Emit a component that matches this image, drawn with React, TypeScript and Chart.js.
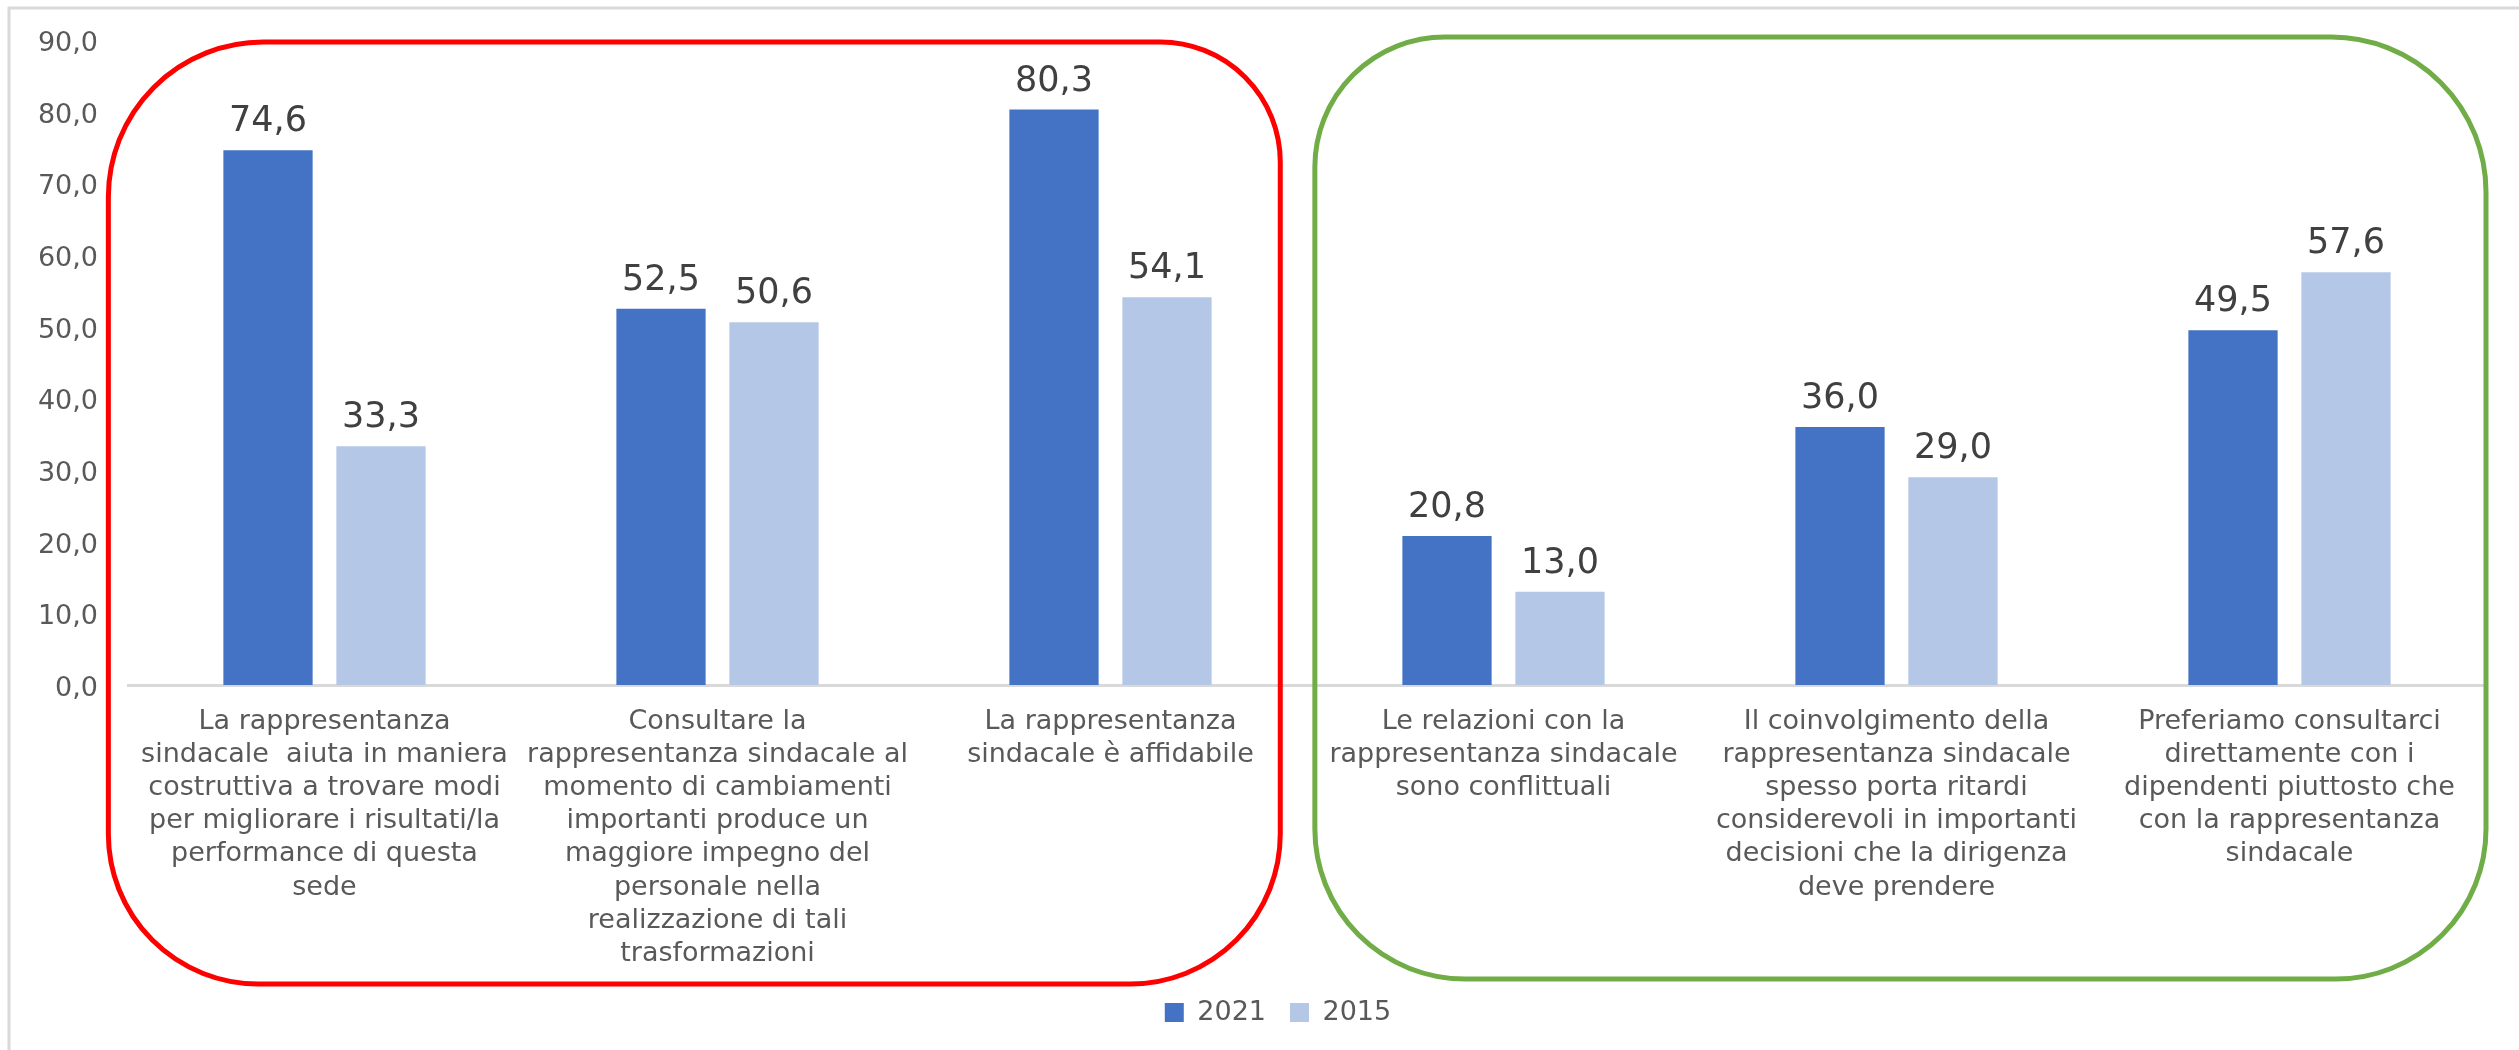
import React, { useEffect, useRef } from "react";
import { Chart, registerables } from "chart.js";

Chart.register(...registerables);

const categories: string[][] = [
  ["La rappresentanza", "sindacale  aiuta in maniera", "costruttiva a trovare modi", "per migliorare i risultati/la", "performance di questa", "sede"],
  ["Consultare la", "rappresentanza sindacale al", "momento di cambiamenti", "importanti produce un", "maggiore impegno del", "personale nella", "realizzazione di tali", "trasformazioni"],
  ["La rappresentanza", "sindacale è affidabile"],
  ["Le relazioni con la", "rappresentanza sindacale", "sono conflittuali"],
  ["Il coinvolgimento della", "rappresentanza sindacale", "spesso porta ritardi", "considerevoli in importanti", "decisioni che la dirigenza", "deve prendere"],
  ["Preferiamo consultarci", "direttamente con i", "dipendenti piuttosto che", "con la rappresentanza", "sindacale"],
];

const series2021: number[] = [74.6, 52.5, 80.3, 20.8, 36.0, 49.5];
const series2015: number[] = [33.3, 50.6, 54.1, 13.0, 29.0, 57.6];
const seriesNames: string[] = ["2021", "2015"];

const yMin = 0;
const yMax = 90;
const yStep = 10;

const FONT = "'DejaVu Sans', sans-serif";
const fmt = (v: number) => v.toFixed(1).replace(".", ",");

export default function App() {
  const ref = useRef<HTMLCanvasElement | null>(null);

  useEffect(() => {
    document.body.style.margin = "0";
    const canvas = ref.current;
    if (!canvas) return;

    const framePlugin = {
      id: "frame",
      beforeDraw(chart: any) {
        const ctx = chart.ctx;
        ctx.save();
        ctx.fillStyle = "#ffffff";
        ctx.fillRect(0, 0, chart.width, chart.height);
        ctx.strokeStyle = "#D9D9D9";
        ctx.lineWidth = 3;
        ctx.beginPath();
        ctx.moveTo(9, chart.height);
        ctx.lineTo(9, 8);
        ctx.lineTo(chart.width, 8);
        ctx.stroke();
        ctx.restore();
      },
    };

    const legendShift = {
      id: "legendShift",
      afterLayout(chart: any) {
        if (chart.legend) {
          chart.legend.left += 20;
          chart.legend.right += 20;
        }
      },
    };

    const roundRect = (
      ctx: CanvasRenderingContext2D,
      l: number, t: number, r: number, b: number,
      tl: number, tr: number, br: number, bl: number
    ) => {
      ctx.beginPath();
      ctx.moveTo(l + tl, t);
      ctx.lineTo(r - tr, t);
      ctx.arcTo(r, t, r, t + tr, tr);
      ctx.lineTo(r, b - br);
      ctx.arcTo(r, b, r - br, b, br);
      ctx.lineTo(l + bl, b);
      ctx.arcTo(l, b, l, b - bl, bl);
      ctx.lineTo(l, t + tl);
      ctx.arcTo(l, t, l + tl, t, tl);
      ctx.closePath();
      ctx.stroke();
    };

    const boxesPlugin = {
      id: "boxes",
      afterDraw(chart: any) {
        const ctx = chart.ctx;
        const x = chart.scales.x;
        const y = chart.scales.y;
        const cw = (x.right - x.left) / categories.length;
        const top = y.getPixelForValue(yMax);
        const base = y.getPixelForValue(yMin);
        ctx.save();
        ctx.lineWidth = 5;
        ctx.strokeStyle = "#FF0000";
        roundRect(ctx, x.left - 0.05 * cw, top + 2, x.left + 3 * cw - 0.068 * cw, base + 299, 155, 120, 150, 150);
        ctx.strokeStyle = "#70AD47";
        roundRect(ctx, x.left + 3 * cw + 0.02 * cw, top - 3, x.right, base + 294, 130, 155, 150, 150);
        ctx.restore();
      },
    };

    const labelsPlugin = {
      id: "valueLabels",
      afterDatasetsDraw(chart: any) {
        const ctx = chart.ctx;
        ctx.save();
        ctx.font = `35px ${FONT}`;
        ctx.fillStyle = "#404040";
        ctx.textAlign = "center";
        ctx.textBaseline = "middle";
        chart.data.datasets.forEach((ds: any, i: number) => {
          const meta = chart.getDatasetMeta(i);
          meta.data.forEach((el: any, j: number) => {
            ctx.fillText(fmt(ds.data[j]), el.x, el.y - 28);
          });
        });
        ctx.restore();
      },
    };

    const chart = new Chart(canvas, {
      type: "bar",
      data: {
        labels: categories,
        datasets: [
          { label: seriesNames[0], data: series2021, backgroundColor: "#4472C4", borderWidth: 0, categoryPercentage: 0.575, barPercentage: 0.79 },
          { label: seriesNames[1], data: series2015, backgroundColor: "#B4C7E7", borderWidth: 0, categoryPercentage: 0.575, barPercentage: 0.79 },
        ],
      },
      options: {
        responsive: false,
        animation: false,
        devicePixelRatio: 1,
        layout: { padding: { left: 30, right: 33, top: 40, bottom: 14 } },
        plugins: {
          legend: {
            position: "bottom",
            labels: {
              boxWidth: 19,
              boxHeight: 19,
              padding: 24,
              color: "#595959",
              font: { family: FONT, size: 27 },
            },
          },
          tooltip: { enabled: false },
        },
        scales: {
          x: {
            grid: { display: false, drawTicks: false },
            border: { display: true, color: "#D9D9D9", width: 3 },
            ticks: {
              color: "#595959",
              font: { family: FONT, size: 27, lineHeight: 1.23 },
              padding: 20,
              maxRotation: 0,
              minRotation: 0,
              autoSkip: false,
            },
            afterFit(s: any) {
              const lh = s.chart.legend ? s.chart.legend.height : 0;
              s.height = s.chart.height - 685 - lh - 14;
            },
          },
          y: {
            min: yMin,
            max: yMax,
            grid: { display: false, drawTicks: false },
            border: { display: false },
            ticks: {
              stepSize: yStep,
              color: "#595959",
              font: { family: FONT, size: 27 },
              padding: 30,
              labelOffset: 4,
              callback: (v: any) => fmt(Number(v)),
            },
            afterFit(s: any) {
              s.width = 98;
              s.paddingTop = 0;
              s.paddingBottom = 0;
            },
          },
        },
      },
      plugins: [framePlugin, legendShift, boxesPlugin, labelsPlugin],
    });

    return () => chart.destroy();
  }, []);

  return (
    <div style={{ width: 2519, height: 1050 }}>
      <canvas ref={ref} width={2519} height={1050} style={{ display: "block", width: 2519, height: 1050 }} />
    </div>
  );
}
